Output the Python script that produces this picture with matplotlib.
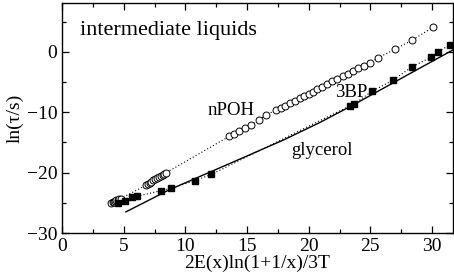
import matplotlib
matplotlib.use("Agg")
import matplotlib.pyplot as plt
from matplotlib.ticker import MultipleLocator

plt.rcParams['font.family'] = ['Liberation Serif', 'DejaVu Serif']
plt.rcParams['mathtext.fontset'] = 'stix'

# nPOH (open circles)
npoh_x = [4.0, 4.1, 4.2, 4.3, 4.4, 4.5, 4.6, 4.75,
          6.8, 6.95, 7.1, 7.25, 7.4, 7.55, 7.7, 7.85, 8.0, 8.15, 8.3, 8.45,
          13.55, 13.93, 14.36, 14.82, 15.36, 15.98, 16.57, 17.33, 17.79, 18.06,
          18.52, 18.87, 19.27, 19.60, 20.03, 20.35,
          20.7, 21.1, 21.5, 21.9, 22.3, 22.8, 23.2, 23.6, 24.0, 24.45,
          25.0, 25.6, 27.0, 28.35, 30.1]
npoh_y = [-25.0, -24.9, -24.8, -24.7, -24.6, -24.5, -24.4, -24.3,
          -22.1, -21.9, -21.7, -21.5, -21.3, -21.1, -20.9, -20.7, -20.5, -20.35, -20.15, -20.0,
          -14.0, -13.6, -13.15, -12.6, -12.1, -11.3, -10.4, -9.7, -9.3, -8.9,
          -8.5, -8.2, -7.7, -7.3, -6.9, -6.6,
          -6.2, -5.8, -5.3, -4.9, -4.5, -4.0, -3.6, -3.2, -2.7, -2.3,
          -1.8, -1.0, 0.45, 1.9, 4.1]

# 3BP (filled squares)
bp_x = [4.56, 5.1, 5.64, 6.1, 8.0, 8.8, 10.75, 12.1, 23.37, 23.64, 25.15, 26.83, 28.4, 29.93, 30.47, 31.47]
bp_y = [-25.0, -24.7, -24.1, -23.9, -23.0, -22.6, -21.35, -20.3, -8.9, -8.7, -6.5, -4.7, -2.43, -0.9, 0.05, 1.16]

# glycerol (solid curve)
gly_x = [5.18, 8.74, 13.36, 17.95, 20.9, 23.6, 26.3, 29.0, 31.7]
gly_y = [-26.5, -22.8, -18.7, -14.6, -11.7, -8.8, -5.75, -2.7, 0.33]

labels = {"intermediate liquids": (1.46, 2.8, 16),
          "nPOH": (11.8, -10.45, 13.5),
          "3BP": (22.1, -7.46, 13.5),
          "glycerol": (18.6, -17.1, 13.5)}

fig = plt.figure(figsize=(4.54, 2.79), dpi=100)
ax = fig.add_axes([62/454, 1-233/279, (453-62)/454, (233-3)/279])

ax.plot(npoh_x, npoh_y, linestyle=(0, (1, 2)), color='black', lw=0.8,
        marker='o', mfc='white', mec='black', ms=5.0, mew=0.7)
ax.plot(bp_x, bp_y, linestyle=(0, (1, 2)), color='black', lw=0.8,
        marker='s', mfc='black', mec='black', ms=4.6)
ax.plot(gly_x, gly_y, '-', color='black', lw=1.0)

for t, (x, y, fs) in labels.items():
    ax.text(x, y, t, fontsize=fs, va='baseline', ha='left')

ax.set_xlim(0, 31.7)
ax.set_ylim(-30, 8.1)
ax.xaxis.set_major_locator(MultipleLocator(5))
ax.xaxis.set_minor_locator(MultipleLocator(2.5))
ax.yaxis.set_major_locator(MultipleLocator(10))
ax.yaxis.set_minor_locator(MultipleLocator(5))
ax.tick_params(which='both', direction='in', top=True, right=True, labelsize=14, width=0.9)
ax.tick_params(which='major', length=5)
ax.tick_params(which='minor', length=3)
ax.set_xlabel("2E(x)ln(1+1/x)/3T", fontsize=14, labelpad=0)
ax.set_ylabel("ln(τ/s)", fontsize=14, labelpad=2)
for s in ax.spines.values():
    s.set_linewidth(1.0)

fig.savefig("out.png", dpi=100)
